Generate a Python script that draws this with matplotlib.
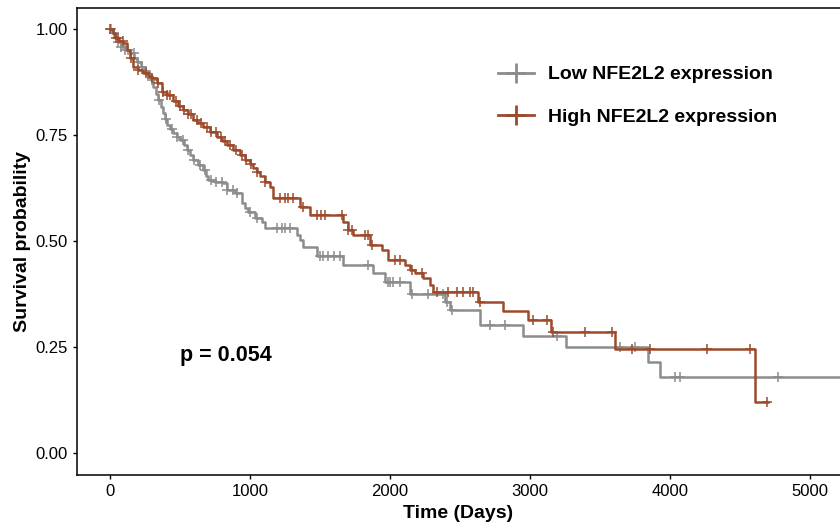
import numpy as np
import matplotlib
matplotlib.use("Agg")
from matplotlib import pyplot as plt
from matplotlib.lines import Line2D

plt.rcParams['font.family'] = ['Liberation Sans', 'DejaVu Sans']

# Low NFE2L2 expression: event times (days) and survival after each drop
low_t = [0, 14, 36, 57, 79, 107, 143, 171, 193, 221, 250, 271, 293, 307, 329, 343,
         364, 379, 393, 407, 429, 450, 479, 500, 529, 550, 571, 593, 629, 664, 686,
         700, 750, 807, 836, 893, 943, 964, 986, 1036, 1086, 1107, 1336, 1357, 1379,
         1479, 1664, 1879, 1964, 2143, 2393, 2429, 2643, 2950, 3257, 3843, 3929, 5400]
low_s = [1.0, 0.991, 0.981, 0.969, 0.958, 0.950, 0.943, 0.932, 0.922, 0.910, 0.901,
         0.894, 0.880, 0.863, 0.847, 0.833, 0.816, 0.802, 0.788, 0.774, 0.764, 0.755,
         0.745, 0.738, 0.726, 0.715, 0.703, 0.691, 0.679, 0.667, 0.653, 0.644, 0.639,
         0.637, 0.620, 0.613, 0.590, 0.578, 0.568, 0.554, 0.545, 0.531, 0.514, 0.502,
         0.486, 0.465, 0.443, 0.425, 0.403, 0.375, 0.356, 0.337, 0.302, 0.276, 0.250,
         0.215, 0.179, 0.179]
low_cens = [10, 30, 60, 80, 110, 130, 170, 200, 230, 260, 300, 350, 400, 440, 480,
            520, 560, 600, 640, 680, 720, 760, 800, 836, 880, 907, 1000, 1050, 1193,
            1229, 1250, 1286, 1500, 1521, 1557, 1600, 1643, 1843, 1986, 2000, 2021,
            2071, 2157, 2271, 2379, 2407, 2443, 2714, 2821, 3193, 3643, 3750, 4036,
            4071, 4771]

# High NFE2L2 expression
high_t = [0, 21, 36, 64, 93, 121, 143, 164, 200, 236, 271, 300, 336, 371, 407, 450,
          486, 521, 557, 593, 629, 664, 714, 764, 800, 836, 879, 929, 964, 1000, 1021,
          1050, 1071, 1107, 1143, 1164, 1357, 1429, 1664, 1700, 1736, 1857, 1943, 1986,
          2107, 2143, 2179, 2236, 2286, 2307, 2629, 2807, 2986, 3150, 3607, 4607, 4700]
high_s = [1.0, 0.991, 0.979, 0.972, 0.967, 0.950, 0.932, 0.910, 0.903, 0.896, 0.889,
          0.884, 0.873, 0.851, 0.844, 0.830, 0.818, 0.809, 0.800, 0.785, 0.778, 0.769,
          0.757, 0.745, 0.736, 0.726, 0.715, 0.703, 0.691, 0.682, 0.672, 0.663, 0.653,
          0.639, 0.627, 0.601, 0.580, 0.561, 0.545, 0.526, 0.514, 0.491, 0.479, 0.455,
          0.443, 0.432, 0.425, 0.413, 0.396, 0.380, 0.356, 0.335, 0.314, 0.285, 0.245,
          0.120, 0.120]
high_cens = [0, 40, 60, 90, 150, 200, 260, 300, 340, 380, 410, 430, 470, 500, 530,
             560, 580, 620, 650, 690, 720, 760, 790, 820, 860, 900, 940, 970, 1010,
             1050, 1107, 1214, 1250, 1271, 1307, 1379, 1479, 1507, 1536, 1657, 1700,
             1729, 1821, 1843, 1871, 2036, 2071, 2157, 2229, 2336, 2414, 2479, 2521,
             2571, 2593, 2643, 3021, 3121, 3164, 3393, 3586, 3729, 3857, 4264, 4571,
             4693]

groups = ["Low NFE2L2 expression", "High NFE2L2 expression"]
colors = ["#8c8c8c", "#9c4a2b"]
p_text = "p = 0.054"


def surv_at(times, surv, t):
    idx = np.searchsorted(times, t, side="right") - 1
    return np.asarray(surv)[idx]


fig = plt.figure(figsize=(8.4, 5.26), dpi=100)
ax = fig.add_axes([0.0917, 0.097, 0.9083, 0.888])

for t, s, c, col in [(low_t, low_s, low_cens, colors[0]),
                     (high_t, high_s, high_cens, colors[1])]:
    ax.plot(t, s, drawstyle="steps-post", color=col, lw=1.8)
    ax.plot(c, surv_at(t, s, c), ls="none", marker="+", color=col,
            markersize=7, markeredgewidth=1.1)

ax.set_xlim(-235, 5214)
ax.set_ylim(-0.052, 1.05)
ax.set_xticks([0, 1000, 2000, 3000, 4000, 5000])
ax.set_yticks([0, 0.25, 0.5, 0.75, 1.0])
ax.set_yticklabels(["0.00", "0.25", "0.50", "0.75", "1.00"])
ax.tick_params(labelsize=12, colors="black", length=3, width=1)
ax.spines["right"].set_visible(False)
for sp in ["left", "top", "bottom"]:
    ax.spines[sp].set_linewidth(1.1)

ax.set_xlabel("Time (Days)", fontsize=14, fontweight="bold", labelpad=4)
ax.set_ylabel("Survival probability", fontsize=14, fontweight="bold", labelpad=3)
ax.text(500, 0.231, p_text, fontsize=15.5, fontweight="bold", va="center")

handles = [Line2D([], [], color=col, lw=2, marker="+", markersize=14,
                  markeredgewidth=2) for col in colors]
ax.legend(handles, groups, loc="upper left", bbox_to_anchor=(0.5395, 0.897),
          frameon=False, borderpad=0, handlelength=1.85, handletextpad=0.7,
          prop={"size": 14, "weight": "bold"}, labelspacing=1.3)

fig.savefig("out.png", dpi=100)
